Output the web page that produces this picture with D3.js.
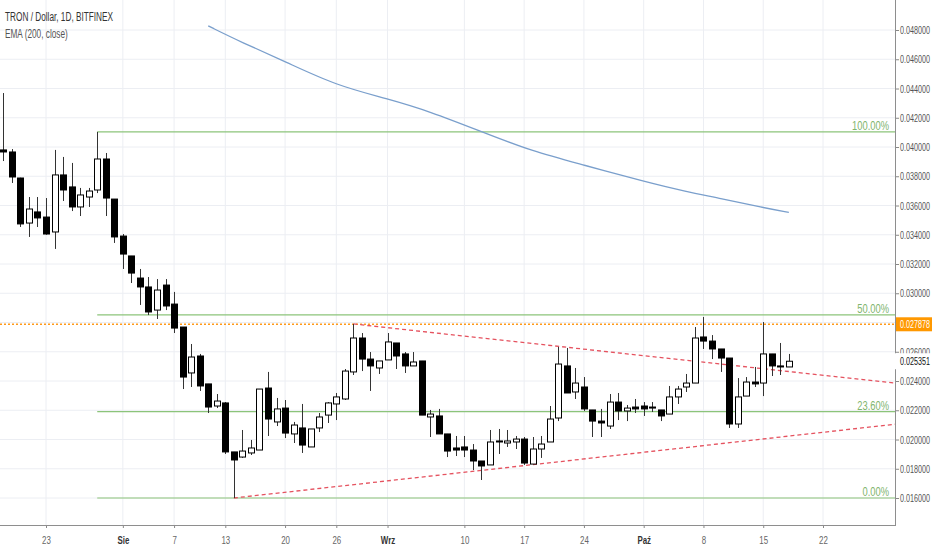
<!DOCTYPE html>
<html><head><meta charset="utf-8">
<script src="https://cdn.jsdelivr.net/npm/d3@7"></script>
<style>html,body{margin:0;padding:0;background:#fff;overflow:hidden}</style>
</head><body><svg id="c" width="932" height="550"></svg>
<script>
// ---------- DATA ----------
const firstDay = "2018-07-18", lastDay = "2018-10-18";
const opens  = [0.03980,0.03966,0.03788,0.03480,0.03556,0.03521,0.03419,0.03809,0.03727,0.03590,
                0.03658,0.03706,0.03918,0.03644,0.03391,0.03255,0.03104,0.03043,0.02885,0.03056,
                0.02926,0.02769,0.02455,0.02571,0.02380,0.02229,0.02250,0.01915,0.01880,0.01908,
                0.01928,0.02352,0.02120,0.02215,0.02038,0.02079,0.01949,0.02079,0.02167,0.02243,
                0.02277,0.02462,0.02694,0.02550,0.02489,0.02544,0.02660,0.02585,0.02503,0.02537,
                0.02154,0.02161,0.02038,0.01942,0.01949,0.01928,0.01853,0.01826,0.01990,0.01976,
                0.01983,0.02003,0.01832,0.01935,0.01983,0.02147,0.02503,0.02325,0.02359,0.02202,
                0.02126,0.02092,0.02256,0.02195,0.02222,0.02229,0.02222,0.02202,0.02174,0.02291,
                0.02359,0.02386,0.02701,0.02673,0.02619,0.02557,0.02106,0.02297,0.02393,0.02386,
                0.02585,0.02503,0.02496];
const highs  = [0.04369,0.03986,0.03790,0.03658,0.03658,0.03651,0.03980,0.03932,0.03891,0.03720,
                0.03720,0.04103,0.03959,0.03644,0.03405,0.03255,0.03166,0.03111,0.03097,0.03097,
                0.03009,0.02769,0.02653,0.02585,0.02380,0.02311,0.02256,0.01915,0.02065,0.01997,
                0.02345,0.02462,0.02284,0.02270,0.02120,0.02243,0.02072,0.02181,0.02256,0.02318,
                0.02482,0.02790,0.02728,0.02598,0.02537,0.02728,0.02660,0.02598,0.02598,0.02537,
                0.02202,0.02209,0.02038,0.02024,0.02024,0.01969,0.01853,0.02065,0.02072,0.02065,
                0.02024,0.02017,0.02017,0.02024,0.02229,0.02633,0.02626,0.02489,0.02427,0.02202,
                0.02209,0.02311,0.02318,0.02236,0.02277,0.02256,0.02256,0.02202,0.02366,0.02366,
                0.02448,0.02769,0.02838,0.02714,0.02619,0.02557,0.02420,0.02427,0.02496,0.02803,
                0.02585,0.02660,0.02585];
const lows   = [0.03904,0.03754,0.03453,0.03385,0.03453,0.03400,0.03303,0.03631,0.03562,0.03528,
                0.03590,0.03685,0.03528,0.03344,0.03166,0.03070,0.02920,0.02851,0.02824,0.02885,
                0.02728,0.02345,0.02359,0.02332,0.02181,0.02215,0.01901,0.01600,0.01874,0.01894,
                0.01928,0.02024,0.02092,0.02010,0.01976,0.01908,0.01949,0.02051,0.02113,0.02133,
                0.02270,0.02441,0.02468,0.02332,0.02448,0.02544,0.02482,0.02455,0.02503,0.02167,
                0.02017,0.02038,0.01880,0.01887,0.01880,0.01791,0.01723,0.01826,0.01901,0.01949,
                0.01935,0.01826,0.01832,0.01874,0.01983,0.02126,0.02318,0.02277,0.02195,0.02017,
                0.02017,0.02072,0.02133,0.02126,0.02181,0.02161,0.02188,0.02126,0.02174,0.02243,
                0.02325,0.02386,0.02619,0.02550,0.02462,0.02079,0.02079,0.02297,0.02359,0.02297,
                0.02434,0.02441,0.02496];
const closes = [0.03966,0.03795,0.03474,0.03576,0.03515,0.03405,0.03809,0.03706,0.03590,0.03672,
                0.03699,0.03918,0.03651,0.03385,0.03268,0.03138,0.03043,0.02872,0.03022,0.02913,
                0.02762,0.02427,0.02564,0.02366,0.02222,0.02263,0.01915,0.01860,0.01921,0.01942,
                0.02345,0.02140,0.02209,0.02044,0.02099,0.01962,0.02072,0.02154,0.02250,0.02291,
                0.02468,0.02694,0.02550,0.02503,0.02537,0.02667,0.02571,0.02503,0.02530,0.02167,
                0.02174,0.02038,0.01921,0.01928,0.01928,0.01853,0.01819,0.01983,0.01983,0.01990,
                0.02003,0.01839,0.01935,0.01969,0.02140,0.02516,0.02318,0.02386,0.02209,0.02126,
                0.02113,0.02256,0.02195,0.02215,0.02209,0.02209,0.02215,0.02161,0.02291,0.02345,
                0.02386,0.02694,0.02673,0.02619,0.02557,0.02106,0.02291,0.02393,0.02380,0.02585,
                0.02503,0.02496,0.025351];

const emaDates  = ["2018-08-11","2018-08-15","2018-08-20","2018-08-26","2018-09-01","2018-09-06","2018-09-12",
                   "2018-09-18","2018-09-24","2018-10-01","2018-10-06","2018-10-10","2018-10-15","2018-10-18"];
const emaValues = [0.04828,0.04713,0.04585,0.04420,0.04330,0.04242,0.04105,
                   0.03969,0.03877,0.03764,0.03694,0.03649,0.03585,0.03553];

const xTickDates  = ["2018-07-23","2018-08-01","2018-08-07","2018-08-13","2018-08-20","2018-08-26","2018-09-01",
                     "2018-09-10","2018-09-17","2018-09-24","2018-10-01","2018-10-08","2018-10-15","2018-10-22"];
const xTickLabels = ["23","Sie","7","13","20","26","Wrz","10","17","24","Paź","8","15","22"];
const monthLabels = ["Sie","Wrz","Paź"];
const yTicks = [0.016,0.018,0.020,0.022,0.024,0.026,0.028,0.030,0.032,0.034,0.036,0.038,0.040,0.042,0.044,0.046,0.048];

const fibStart = "2018-07-29";
const fibLow = 0.01600, fibHigh = 0.04103;
const fibRatios = [0, 0.236, 0.5, 1];
const fibLabels = ["0.00%","23.60%","50.00%","100.00%"];

const trendUpper = [["2018-08-28",0.02790],["2018-10-31",0.02382]];
const trendLower = [["2018-08-14",0.01600],["2018-10-31",0.02108]];
const markPrice = 0.027878;
const lastPrice = 0.025351;
const titleText = "TRON / Dollar, 1D, BITFINEX";
const emaText = "EMA (200, close)";

// ---------- CHART ----------
const W = 932, H = 550, plotR = 895, plotB = 525;
const parse = d3.utcParse("%Y-%m-%d");
const days = d3.utcDay.range(parse(firstDay), d3.utcDay.offset(parse(lastDay), 1));
const candles = days.map((d, i) => ({date: d, o: opens[i], h: highs[i], l: lows[i], c: closes[i]}));

const x = d3.scaleUtc().domain([parse("2018-07-23"), parse("2018-10-22")]).range([46, 823]);
const y = d3.scaleLinear().domain([0.016, 0.048]).range([498, 30]);

const svg = d3.select("#c");
const SX = 0.72;
const FONT = "'Liberation Sans', Arial, sans-serif";
function txt(g, px, py, s, o = {}) {
  return g.append("text")
    .attr("transform", `translate(${px},${py}) scale(${o.sx || SX},1)`)
    .attr("text-anchor", o.anchor || "start")
    .attr("font-family", FONT)
    .attr("font-size", o.size || 11)
    .attr("font-weight", o.weight || "normal")
    .attr("fill", o.fill || "#555")
    .text(s);
}

svg.append("defs").append("clipPath").attr("id", "clip")
  .append("rect").attr("x", 0).attr("y", 0).attr("width", plotR).attr("height", plotB);

// grid
const grid = svg.append("g");
grid.selectAll(".vg").data(xTickDates).join("line")
  .attr("x1", d => x(parse(d))).attr("x2", d => x(parse(d)))
  .attr("y1", 0).attr("y2", plotB).attr("stroke", "#eceef3").attr("stroke-width", 1);
grid.selectAll(".hg").data(yTicks).join("line")
  .attr("x1", 0).attr("x2", plotR)
  .attr("y1", d => y(d)).attr("y2", d => y(d)).attr("stroke", "#eceef3").attr("stroke-width", 1);

const plot = svg.append("g").attr("clip-path", "url(#clip)");

// fib levels
const fibG = plot.append("g");
fibRatios.forEach((r, i) => {
  const v = fibLow + r * (fibHigh - fibLow);
  fibG.append("line").attr("x1", x(parse(fibStart))).attr("x2", plotR)
    .attr("y1", y(v)).attr("y2", y(v)).attr("stroke", "#8cc47a").attr("stroke-width", 1.2);
});

// EMA
const ema = emaDates.map((d, i) => [parse(d), emaValues[i]]);
plot.append("path").datum(ema)
  .attr("d", d3.line().x(d => x(d[0])).y(d => y(d[1])).curve(d3.curveBasis))
  .attr("fill", "none").attr("stroke", "#7a9fcc").attr("stroke-width", 1.3);

// orange mark line
plot.append("line").attr("x1", 0).attr("x2", plotR)
  .attr("y1", y(markPrice)).attr("y2", y(markPrice))
  .attr("stroke", "#ff9a1a").attr("stroke-width", 1.6).attr("stroke-dasharray", "2,2");

// trend lines
[trendUpper, trendLower].forEach(t => {
  plot.append("line")
    .attr("x1", x(parse(t[0][0]))).attr("y1", y(t[0][1]))
    .attr("x2", x(parse(t[1][0]))).attr("y2", y(t[1][1]))
    .attr("stroke", "#e5525f").attr("stroke-width", 1.3).attr("stroke-dasharray", "4,3");
});

// candles
const bw = 6;
const cg = plot.append("g");
cg.selectAll(".wick").data(candles).join("line")
  .attr("x1", d => Math.round(x(d.date)) + 0.5).attr("x2", d => Math.round(x(d.date)) + 0.5)
  .attr("y1", d => y(d.h)).attr("y2", d => y(d.l))
  .attr("stroke", "#333").attr("stroke-width", 1);
cg.selectAll(".body").data(candles).join("rect")
  .attr("x", d => Math.round(x(d.date)) + 0.5 - bw / 2)
  .attr("y", d => y(Math.max(d.o, d.c)))
  .attr("width", bw)
  .attr("height", d => Math.max(1, Math.abs(y(d.o) - y(d.c))))
  .attr("fill", d => d.c >= d.o ? "#fff" : "#000")
  .attr("stroke", "#000").attr("stroke-width", 1);

// fib labels
fibRatios.forEach((r, i) => {
  const v = fibLow + r * (fibHigh - fibLow);
  txt(svg, 889, y(v) - 2, fibLabels[i], {anchor: "end", fill: "#7fb56d", size: 12, sx: 0.78});
});

// axes
const yAxis = svg.append("g").attr("transform", `translate(${plotR},0)`)
  .call(d3.axisRight(y).tickValues(yTicks).tickSize(4).tickFormat(d => d.toFixed(6)));
yAxis.select(".domain").remove();
yAxis.selectAll(".tick line").attr("stroke", "#888");
yAxis.selectAll(".tick text")
  .attr("x", null).attr("dy", null).attr("y", 3.5)
  .attr("transform", `translate(5,0) scale(${SX},1)`)
  .attr("font-family", FONT).attr("font-size", 10).attr("fill", "#555");

const xAxis = svg.append("g").attr("transform", `translate(0,${plotB})`)
  .call(d3.axisBottom(x).tickValues(xTickDates.map(parse)).tickSize(3).tickFormat((d, i) => xTickLabels[i]));
xAxis.select(".domain").remove();
xAxis.selectAll(".tick line").attr("stroke", "#888");
xAxis.selectAll(".tick text")
  .attr("dy", null).attr("y", 19)
  .attr("transform", `scale(${SX},1)`)
  .attr("font-family", FONT).attr("font-size", 11)
  .attr("font-weight", (d, i) => monthLabels.includes(xTickLabels[i]) ? "bold" : "normal")
  .attr("fill", (d, i) => monthLabels.includes(xTickLabels[i]) ? "#333" : "#666");

// axis lines
svg.append("line").attr("x1", plotR + 0.5).attr("x2", plotR + 0.5).attr("y1", 0).attr("y2", plotB)
  .attr("stroke", "#8e8e8e").attr("stroke-width", 1);
svg.append("line").attr("x1", 0).attr("x2", plotR + 1).attr("y1", plotB + 0.5).attr("y2", plotB + 0.5)
  .attr("stroke", "#8e8e8e").attr("stroke-width", 1);

// price labels
const ym = y(markPrice);
svg.append("rect").attr("x", plotR + 1).attr("y", ym - 7).attr("width", W - plotR).attr("height", 14).attr("fill", "#ff9800");
txt(svg, plotR + 5, ym + 3.5, markPrice.toFixed(6), {fill: "#fff", size: 10});
const yl = y(lastPrice);
svg.append("rect").attr("x", plotR - 1).attr("y", yl - 8).attr("width", W - plotR + 1).attr("height", 16).attr("fill", "#fff");
txt(svg, plotR + 5, yl + 3.5, lastPrice.toFixed(6), {fill: "#111", size: 10});

// legend
txt(svg, 5, 21, titleText, {fill: "#333", size: 12.5, sx: 0.66});
txt(svg, 5, 38, emaText, {fill: "#555", size: 12.5, sx: 0.66});
</script>
</body></html>
